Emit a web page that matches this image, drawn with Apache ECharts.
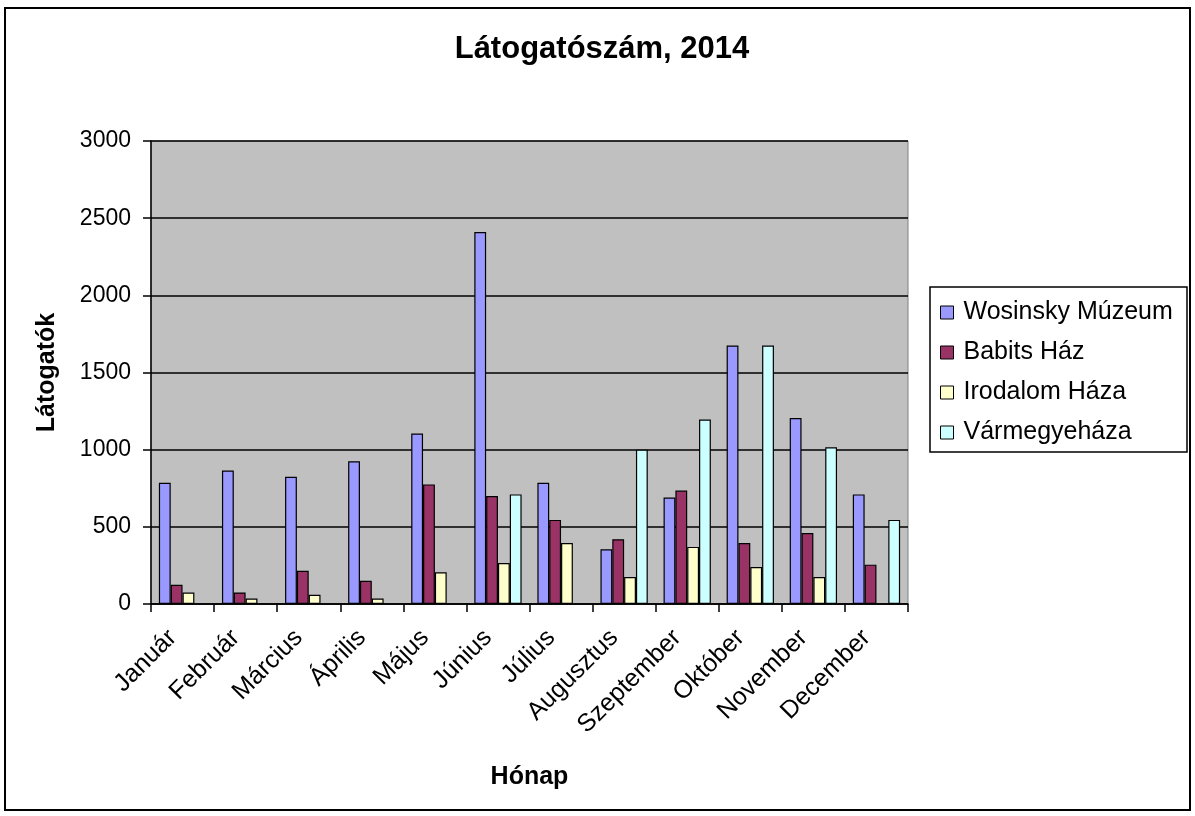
<!DOCTYPE html>
<html>
<head>
<meta charset="utf-8">
<script src="https://cdn.jsdelivr.net/npm/echarts@6/dist/echarts.min.js"></script>
<style>
  html, body { margin: 0; padding: 0; background: #fff; }
  #chart { width: 1195px; height: 816px; }
</style>
</head>
<body>
<div id="chart"></div>
<script>
// hónapok
const months = ['Január', 'Február', 'Március', 'Április', 'Május', 'Június', 'Július', 'Augusztus', 'Szeptember', 'Október', 'November', 'December']
// látogatók intézményenként
const wosinsky = [785, 865, 825, 925, 1105, 2410, 785, 355, 690, 1675, 1205, 710]
const babits = [125, 75, 215, 150, 775, 700, 545, 420, 735, 395, 460, 255]
const irodalom = [75, 35, 60, 35, 205, 265, 395, 175, 370, 240, 175, null]
const varmegye = [null, null, null, null, null, 710, null, 1000, 1195, 1675, 1015, 545]
const seriesNames = ['Wosinsky Múzeum', 'Babits Ház', 'Irodalom Háza', 'Vármegyeháza']
const colors = ['#9999FF', '#993366', '#FFFFCC', '#CCFFFF']
const yTicks = [0, 500, 1000, 1500, 2000, 2500, 3000]

const font = 'Liberation Sans, Arial, sans-serif'
const chart = echarts.init(document.getElementById('chart'))

function bar (name, data, i) {
  return {
    name,
    type: 'bar',
    data,
    barGap: '0%',
    barCategoryGap: '25%',
    animation: false,
    itemStyle: {
      color: colors[i],
      borderColor: '#000',
      borderWidth: 1.2
    }
  }
}

chart.setOption({
  backgroundColor: '#fff',
  textStyle: { fontFamily: font },
  title: {
    text: 'Látogatószám, 2014',
    left: 597,
    top: 29,
    textAlign: 'center',
    textStyle: { fontFamily: font, fontSize: 31, fontWeight: 'bold', color: '#000' }
  },
  legend: {
    orient: 'vertical',
    left: 940,
    top: 300,
    padding: 0,
    itemWidth: 13,
    itemHeight: 13,
    itemGap: 15,
    icon: 'rect',
    data: seriesNames,
    itemStyle: { borderColor: '#000', borderWidth: 1 },
    textStyle: { fontFamily: font, fontSize: 25, color: '#000', padding: [0, 0, 0, 5] }
  },
  grid: {
    left: 151,
    right: 287,
    top: 141,
    bottom: 212,
    show: true,
    backgroundColor: '#C0C0C0',
    borderColor: '#808080',
    borderWidth: 1,
    containLabel: false
  },
  xAxis: {
    type: 'category',
    data: months,
    name: 'Hónap',
    nameLocation: 'middle',
    nameGap: 161,
    nameTextStyle: { fontFamily: font, fontSize: 25, fontWeight: 'bold', color: '#000' },
    axisLine: { lineStyle: { color: '#000', width: 1.5 } },
    axisTick: { show: true, length: 8, lineStyle: { color: '#000', width: 1.5 } },
    axisLabel: {
      rotate: 45,
      margin: 20,
      formatter: v => '{m|' + v + '}',
      rich: {
        m: { fontSize: 25, color: '#000', fontFamily: font, padding: [0, 14, 0, 0] }
      }
    }
  },
  yAxis: {
    type: 'value',
    min: yTicks[0],
    max: yTicks[yTicks.length - 1],
    interval: 500,
    name: 'Látogatók',
    nameLocation: 'middle',
    nameGap: 91,
    nameTextStyle: { fontFamily: font, fontSize: 25, fontWeight: 'bold', color: '#000' },
    axisLine: { show: true, lineStyle: { color: '#000', width: 1.5 } },
    axisTick: { show: true, length: 8, lineStyle: { color: '#000', width: 1.5 } },
    axisLabel: { fontSize: 23, color: '#000', margin: 20, fontFamily: font, formatter: v => String(v) },
    splitLine: { show: true, lineStyle: { color: '#000', width: 1.5 } }
  },
  graphic: [
    {
      type: 'rect',
      shape: { x: 5, y: 8, width: 1185, height: 802 },
      style: { fill: 'none', stroke: '#000', lineWidth: 2 },
      silent: true,
      z: -1
    },
    {
      type: 'rect',
      shape: { x: 930, y: 287, width: 257, height: 165 },
      style: { fill: 'none', stroke: '#000', lineWidth: 1.5 },
      silent: true
    }
  ],
  series: [
    bar(seriesNames[0], wosinsky, 0),
    bar(seriesNames[1], babits, 1),
    bar(seriesNames[2], irodalom, 2),
    bar(seriesNames[3], varmegye, 3)
  ]
})
</script>
</body>
</html>
